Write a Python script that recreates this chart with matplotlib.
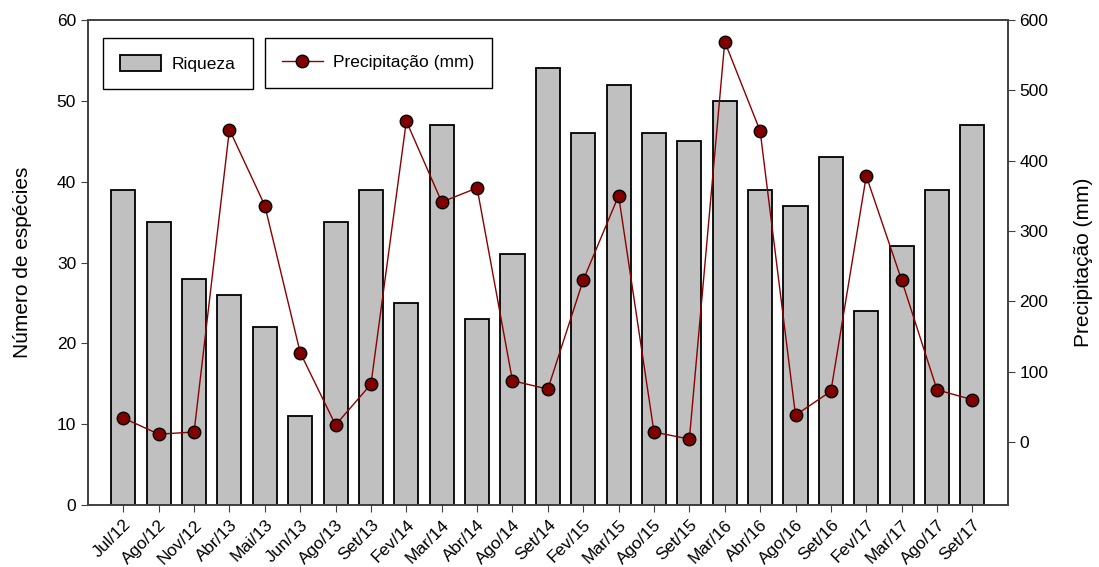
import numpy as np
import matplotlib.pyplot as plt

plt.rcParams["font.family"] = ["Liberation Sans", "DejaVu Sans"]

meses = ["Jul/12", "Ago/12", "Nov/12", "Abr/13", "Mai/13", "Jun/13", "Ago/13", "Set/13",
         "Fev/14", "Mar/14", "Abr/14", "Ago/14", "Set/14", "Fev/15", "Mar/15", "Ago/15",
         "Set/15", "Mar/16", "Abr/16", "Ago/16", "Set/16", "Fev/17", "Mar/17", "Ago/17", "Set/17"]
riqueza = [39, 35, 28, 26, 22, 11, 35, 39, 25, 47, 23, 31, 54, 46, 52, 46, 45, 50, 39, 37,
           43, 24, 32, 39, 47]
precipitacao = [34, 11, 14, 444, 336, 127, 24, 82, 456, 341, 361, 87, 75, 230, 350, 14,
                4, 569, 442, 38, 72, 378, 230, 74, 60]

x = np.arange(len(meses))

fig = plt.figure(figsize=(10.99, 5.67), dpi=100)
ax = fig.add_axes([0.080, 0.109, 0.837, 0.856])

bars = ax.bar(x, riqueza, width=0.68, color="#c0c0c0", edgecolor="black", linewidth=1.3,
              label="Riqueza", zorder=2)
ax.set_xlim(-1, len(meses))
ax.set_ylim(0, 60)
ax.set_yticks(range(0, 61, 10))
ax.set_xticks(x)
ax.set_xticklabels(meses, rotation=45, ha="right", rotation_mode="anchor", fontsize=13)
ax.set_ylabel("Número de espécies", fontsize=15, labelpad=18)
ax.tick_params(labelsize=12.5, direction="out", length=5, color="#404040")

ax2 = ax.twinx()
linha, = ax2.plot(x, precipitacao, color="#8b0000", linewidth=1, marker="o", markersize=9,
                  markerfacecolor="#800000", markeredgecolor="black", markeredgewidth=1,
                  label="Precipitação (mm)", zorder=3)
ax2.set_ylim(-90, 600)
ax2.set_yticks(range(0, 601, 100))
ax2.set_ylabel("Precipitação (mm)", fontsize=15, labelpad=18)
ax2.tick_params(labelsize=12.5, direction="out", length=5, color="#404040")

for a in (ax, ax2):
    for s in a.spines.values():
        s.set_color("#404040")
        s.set_linewidth(1.2)

opts = dict(loc="upper left", fontsize=12.5, fancybox=False, edgecolor="black", framealpha=1,
            borderpad=1.0, handlelength=2.35, handletextpad=0.6, borderaxespad=0)
leg1 = ax2.legend(handles=[bars], bbox_to_anchor=(0.0163, 0.963), handleheight=1.0, **opts)
leg1.get_frame().set_linewidth(1)
ax2.add_artist(leg1)
leg2 = ax2.legend(handles=[linha], bbox_to_anchor=(0.192, 0.963), **opts)
leg2.get_frame().set_linewidth(1)

fig.savefig("out.png", dpi=100)
